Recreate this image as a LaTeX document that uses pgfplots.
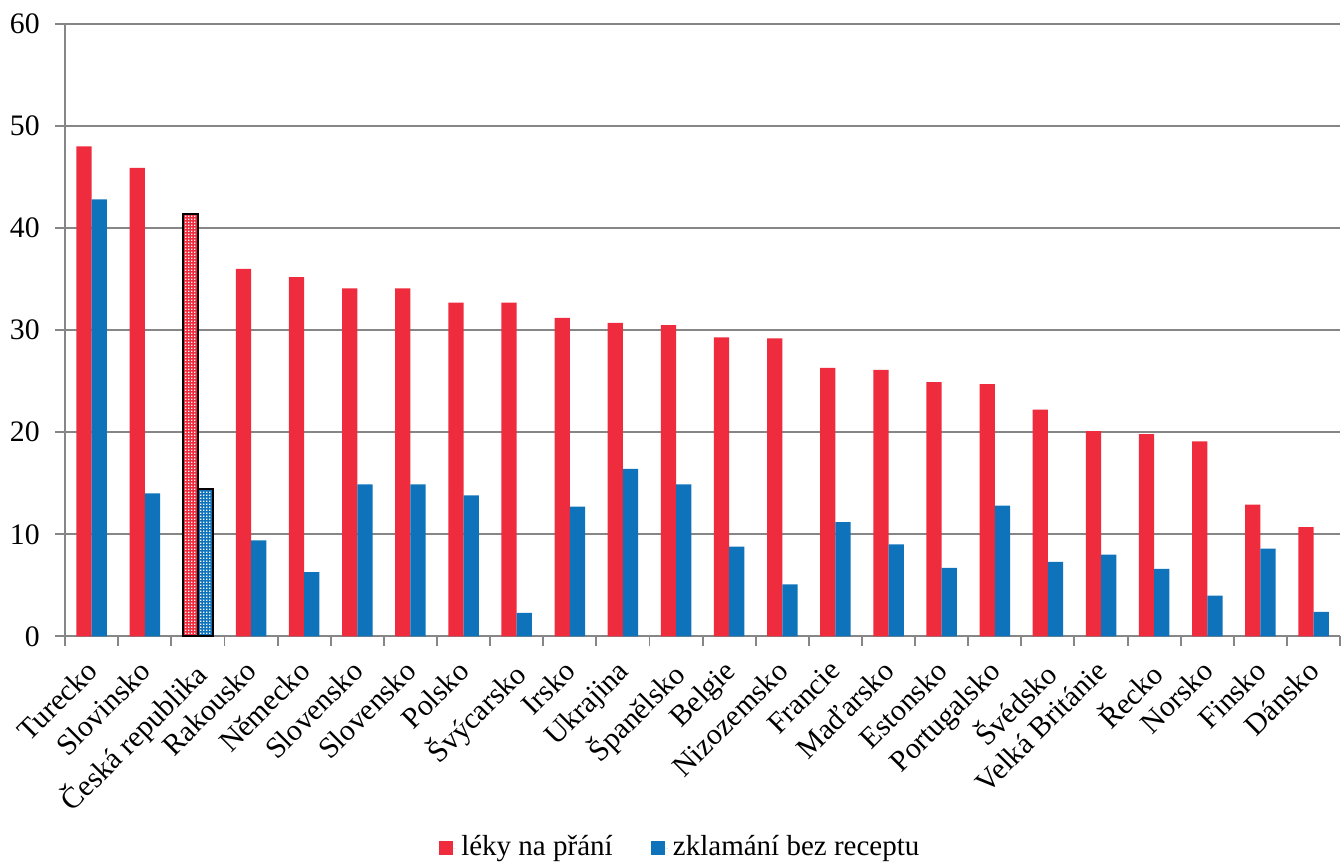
\documentclass[border=0pt]{standalone}
\usepackage{fontspec}
\setmainfont{Liberation Serif}
\usepackage{pgfplots}
\usepackage{pgfplotstable}
\pgfplotsset{compat=1.18}
\usetikzlibrary{patterns}
\definecolor{cred}{RGB}{238,44,62}
\definecolor{cblue}{RGB}{14,115,186}
\definecolor{cgrid}{RGB}{134,134,134}

\pgfdeclarepatternformonly{finedots}{\pgfpointorigin}{\pgfpoint{1.25pt}{1.25pt}}{\pgfpoint{1.25pt}{1.25pt}}{%
  \pgfpathrectangle{\pgfpointorigin}{\pgfpoint{0.55pt}{0.55pt}}\pgfusepath{fill}}

\pgfplotstableread{
x red blue
0 48.0 42.8
1 45.9 14.0
3 36.0 9.4
4 35.2 6.3
5 34.1 14.9
6 34.1 14.9
7 32.7 13.8
8 32.7 2.3
9 31.2 12.7
10 30.7 16.4
11 30.5 14.9
12 29.3 8.8
13 29.2 5.1
14 26.3 11.2
15 26.1 9.0
16 24.9 6.7
17 24.7 12.8
18 22.2 7.3
19 20.1 8.0
20 19.8 6.6
21 19.1 4.0
22 12.9 8.6
23 10.7 2.4
}\maintab

\pgfplotstableread{
x red blue
2 41.4 14.4
}\cztab

\begin{document}
\fontsize{12.4}{14.5}\selectfont
\begin{tikzpicture}
\begin{axis}[
  scale only axis,
  width=531.7pt, height=255.4pt,
  xmin=-0.5, xmax=23.5, ymin=0, ymax=60,
  ytick={0,10,...,60},
  ymajorgrids,
  grid style={cgrid, line width=0.8pt},
  axis x line*=bottom, axis y line*=left,
  axis line style={-, cgrid, line width=0.8pt},
  tick align=outside,
  major tick length=4.1pt, minor tick length=4pt,
  tick style={cgrid, line width=0.8pt},
  xtick={0,...,23},
  minor xtick={-0.5,0.5,...,23.5},
  major x tick style={draw=none},
  xticklabels={Turecko, Slovinsko, Česká republika, Rakousko, Německo, Slovensko, Slovensko, Polsko, Švýcarsko, Irsko, Ukrajina, Španělsko, Belgie, Nizozemsko, Francie, Maďarsko, Estonsko, Portugalsko, Švédsko, Velká Británie, Řecko, Norsko, Finsko, Dánsko},
  tick label style={font=\fontsize{12.4}{14.5}\selectfont},
  /pgf/number format/assume math mode=true,
  xticklabel style={xshift=-3pt, yshift=-3.5pt, rotate=45, anchor=north east, inner sep=1pt},
  yticklabel style={xshift=-2.2pt, inner ysep=5.8pt},
  legend style={at={(0.4837,-0.3687)}, anchor=south, draw=none, inner sep=0pt,
    legend columns=2, font=\fontsize{12.1}{14.2}\selectfont,
    nodes={inner ysep=0.5pt},
    /tikz/every even column/.append style={column sep=14pt}},
  legend image code/.code={\path (0pt,0pt) -- (7.1pt,0pt);\fill[#1,/tikz/.cd,draw=none] (0pt,-2.9pt) rectangle (5.8pt,2.9pt);},
]
\addplot[ybar, bar width=0.287, bar shift=-0.1435, fill=cred, draw=none] table[x=x,y=red]{\maintab};
\addlegendentry{léky na přání}
\addplot[ybar, bar width=0.287, bar shift=0.1435, fill=cblue, draw=none] table[x=x,y=blue]{\maintab};
\addlegendentry{zklamání bez receptu}
\addplot[ybar, bar width=0.287, bar shift=-0.1435, fill=cred, draw=black, line width=0.8pt,
  postaction={pattern=finedots, pattern color=white}, forget plot] table[x=x,y=red]{\cztab};
\addplot[ybar, bar width=0.287, bar shift=0.1435, fill=cblue, draw=black, line width=0.8pt,
  postaction={pattern=finedots, pattern color=white}, forget plot] table[x=x,y=blue]{\cztab};
\end{axis}
\end{tikzpicture}
\end{document}
